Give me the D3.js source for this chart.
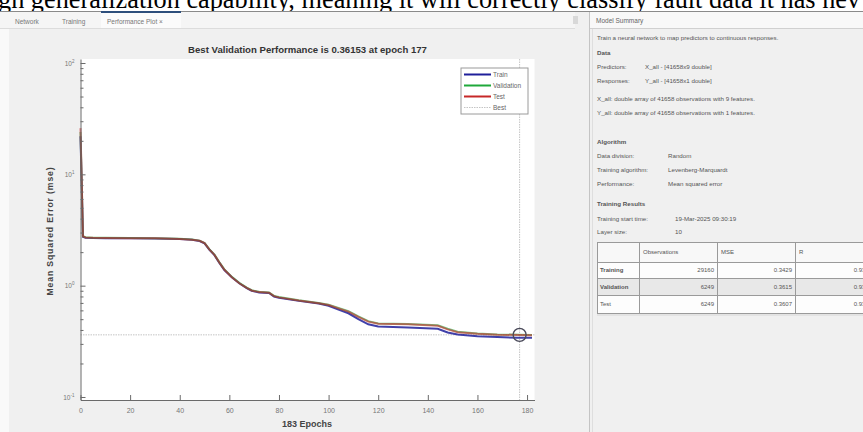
<!DOCTYPE html>
<html>
<head>
<meta charset="utf-8">
<script src="https://cdn.jsdelivr.net/npm/d3@7"></script>
<style>
  body { margin: 0; background: #fff; overflow: hidden; }
  svg { display: block; }
  text { font-family: Arial, "Liberation Sans", sans-serif; }
</style>
</head>
<body>
<div id="chart"></div>
<script>
// performance curves (epoch, mse)
const trainEpochs = [0, 1, 2, 5, 10, 20, 30, 40, 45, 48, 50, 52, 54, 56, 58, 61, 64, 67, 69, 72, 76, 78, 80, 88, 96, 100, 104, 108, 112, 116, 120, 132, 144, 148, 152, 160, 168, 176, 182];
const trainMse = [22, 2.75, 2.7, 2.68, 2.67, 2.66, 2.65, 2.62, 2.58, 2.52, 2.4, 2.1, 1.88, 1.6, 1.38, 1.19, 1.05, 0.95, 0.9, 0.87, 0.86, 0.8, 0.78, 0.73, 0.69, 0.66, 0.61, 0.565, 0.5, 0.45, 0.43, 0.42, 0.41, 0.38, 0.365, 0.352, 0.345, 0.341, 0.34];
const validationEpochs = [0, 1, 2, 5, 10, 20, 30, 40, 45, 48, 50, 52, 54, 56, 58, 61, 64, 67, 69, 72, 76, 78, 80, 88, 96, 100, 104, 108, 112, 116, 120, 132, 144, 148, 152, 160, 168, 177, 182];
const validationMse = [24, 2.78, 2.72, 2.7, 2.69, 2.68, 2.67, 2.64, 2.6, 2.54, 2.42, 2.12, 1.9, 1.62, 1.4, 1.2, 1.06, 0.96, 0.91, 0.88, 0.87, 0.81, 0.79, 0.74, 0.7, 0.675, 0.63, 0.59, 0.53, 0.48, 0.458, 0.452, 0.44, 0.41, 0.385, 0.372, 0.365, 0.3615, 0.361];
const testEpochs = [0, 1, 2, 5, 10, 20, 30, 40, 45, 48, 50, 52, 54, 56, 58, 61, 64, 67, 69, 72, 76, 78, 80, 88, 96, 100, 104, 108, 112, 116, 120, 132, 144, 148, 152, 160, 168, 177, 182];
const testMse = [26, 2.77, 2.71, 2.69, 2.68, 2.67, 2.66, 2.63, 2.59, 2.53, 2.41, 2.11, 1.89, 1.61, 1.39, 1.19, 1.05, 0.955, 0.905, 0.875, 0.865, 0.805, 0.785, 0.735, 0.695, 0.67, 0.625, 0.585, 0.525, 0.475, 0.455, 0.45, 0.437, 0.405, 0.382, 0.37, 0.363, 0.36, 0.359];

const bestEpoch = 177;
const bestMse = 0.36153;
const totalEpochs = 183;

const xTicks = [0, 20, 40, 60, 80, 100, 120, 140, 160, 180];
const yMajorTicks = [0.1, 1, 10, 100];
const yExponents = ["-1", "0", "1", "2"];

const legendNames = ["Train", "Validation", "Test", "Best"];
const tabNames = ["Network", "Training", "Performance Plot \u00d7"];

// model summary panel
const summaryIntro = "Train a neural network to map predictors to continuous responses.";
const dataRows = [["Predictors:", "X_all - [41658x9 double]"], ["Responses:", "Y_all - [41658x1 double]"]];
const dataNotes = ["X_all: double array of 41658 observations with 9 features.", "Y_all: double array of 41658 observations with 1 features."];
const algorithmRows = [["Data division:", "Random"], ["Training algorithm:", "Levenberg-Marquardt"], ["Performance:", "Mean squared error"]];
const resultRows = [["Training start time:", "19-Mar-2025 09:30:19"], ["Layer size:", "10"]];
const tableHeader = ["", "Observations", "MSE", "R"];
const tableNames = ["Training", "Validation", "Test"];
const tableObs = ["29160", "6249", "6249"];
const tableMse = ["0.3429", "0.3615", "0.3607"];
const tableR = ["0.9381", "0.9350", "0.9340"];

const caption = "gh generalization capability, meaning it will correctly classify fault data it has nev";

const W = 863, H = 432;
const margin = { top: 59, right: 328.5, bottom: 32, left: 80.5 };
const width = W - margin.left - margin.right;
const height = H - margin.top - margin.bottom;

const svg = d3.select("#chart").append("svg").attr("width", W).attr("height", H);

// window background
svg.append("rect").attr("width", W).attr("height", H).attr("fill", "#f0f0f0");
svg.append("rect").attr("width", W).attr("height", 11).attr("fill", "#fff");
svg.append("rect").attr("x", 0).attr("y", 28).attr("width", 9).attr("height", H - 28).attr("fill", "#f9f9f9");

// caption of the document above the screenshot (cut at the top in the source)
svg.append("text")
  .attr("x", -2).attr("y", 7.5)
  .attr("font-size", 26.3)
  .attr("fill", "#000")
  .style("font-family", "'Liberation Serif', 'Times New Roman', serif")
  .text(caption);

// tab bar
svg.append("line").attr("x1", 0).attr("x2", W).attr("y1", 11.5).attr("y2", 11.5).attr("stroke", "#8a8a8a");
svg.append("rect").attr("x", 0).attr("y", 12).attr("width", 575).attr("height", 16).attr("fill", "#f5f5f5");
svg.append("rect").attr("x", 101).attr("y", 12).attr("width", 80).attr("height", 16).attr("fill", "#fbfbfb");
svg.append("rect").attr("x", 101).attr("y", 11).attr("width", 80).attr("height", 2).attr("fill", "#2e4f7c");
svg.append("line").attr("x1", 0).attr("x2", 575).attr("y1", 28.5).attr("y2", 28.5).attr("stroke", "#dcdcdc");
const tabX = [15, 62, 107];
svg.selectAll(".tab").data(tabNames).join("text")
  .attr("x", (d, i) => tabX[i]).attr("y", 23.5)
  .attr("font-size", 6.5).attr("fill", "#777")
  .text((d) => d);
svg.append("rect").attr("x", 573).attr("y", 16).attr("width", 5).attr("height", 8).attr("fill", "#d8d8d8");

// model summary header
svg.append("rect").attr("x", 590).attr("y", 12).attr("width", W - 590).attr("height", 16).attr("fill", "#f8f8f8");
svg.append("line").attr("x1", 590).attr("x2", W).attr("y1", 28.5).attr("y2", 28.5).attr("stroke", "#d0d0d0");
svg.append("line").attr("x1", 589.5).attr("x2", 589.5).attr("y1", 12).attr("y2", H).attr("stroke", "#c4c4c4");
svg.append("line").attr("x1", 592.5).attr("x2", 592.5).attr("y1", 29).attr("y2", H).attr("stroke", "#dedede");
svg.append("text").attr("x", 596).attr("y", 23).attr("font-size", 6.5).attr("fill", "#666").text("Model Summary");

// summary texts
const sum = svg.append("g").attr("font-size", 6.2).attr("fill", "#555");
sum.append("text").attr("x", 597).attr("y", 40).text(summaryIntro);
sum.append("text").attr("x", 597).attr("y", 55).attr("font-weight", "bold").text("Data");
dataRows.forEach((r, i) => {
  sum.append("text").attr("x", 597).attr("y", 69 + i * 14).text(r[0]);
  sum.append("text").attr("x", 645).attr("y", 69 + i * 14).text(r[1]);
});
dataNotes.forEach((t, i) => {
  sum.append("text").attr("x", 597).attr("y", 101 + i * 14).text(t);
});
sum.append("text").attr("x", 597).attr("y", 144).attr("font-weight", "bold").text("Algorithm");
algorithmRows.forEach((r, i) => {
  sum.append("text").attr("x", 597).attr("y", 158 + i * 14).text(r[0]);
  sum.append("text").attr("x", 668).attr("y", 158 + i * 14).text(r[1]);
});
sum.append("text").attr("x", 597).attr("y", 206).attr("font-weight", "bold").text("Training Results");
resultRows.forEach((r, i) => {
  sum.append("text").attr("x", 597).attr("y", 221 + i * 13).text(r[0]);
  sum.append("text").attr("x", 675).attr("y", 221 + i * 13).text(r[1]);
});

// results table
const colX = [597, 639, 717, 795, 873];
const rowY = [242, 262, 278, 295, 313];
const tbl = svg.append("g");
tbl.append("rect").attr("x", 597).attr("y", 242).attr("width", 276).attr("height", 20).attr("fill", "#f8f8f8");
tableNames.forEach((n, i) => {
  tbl.append("rect").attr("x", 597).attr("y", rowY[i + 1]).attr("width", 276)
    .attr("height", rowY[i + 2] - rowY[i + 1]).attr("fill", i === 1 ? "#e8e8e8" : "#fdfdfd");
});
rowY.forEach((y) => {
  tbl.append("line").attr("x1", 597).attr("x2", W).attr("y1", y + 0.5).attr("y2", y + 0.5).attr("stroke", "#9a9a9a");
});
colX.slice(0, 4).forEach((x) => {
  tbl.append("line").attr("x1", x + 0.5).attr("x2", x + 0.5).attr("y1", 242).attr("y2", 313).attr("stroke", "#9a9a9a");
});
tbl.append("line").attr("x1", 597).attr("x2", W).attr("y1", 315).attr("y2", 315).attr("stroke", "#d6d6d6");
const tt = tbl.append("g").attr("font-size", 6).attr("fill", "#555");
tableHeader.forEach((h, i) => {
  tt.append("text").attr("x", colX[i] + 4).attr("y", 254).text(h);
});
tableNames.forEach((n, i) => {
  const yy = (rowY[i + 1] + rowY[i + 2]) / 2 + 2.2;
  tt.append("text").attr("x", 600).attr("y", yy).attr("font-weight", i < 2 ? "bold" : "normal").text(n);
  tt.append("text").attr("x", 714).attr("y", yy).attr("text-anchor", "end").text(tableObs[i]);
  tt.append("text").attr("x", 792).attr("y", yy).attr("text-anchor", "end").text(tableMse[i]);
  tt.append("text").attr("x", 872).attr("y", yy).attr("text-anchor", "end").text(tableR[i]);
});

// plot
const canvas = svg.append("g").attr("transform", "translate(" + margin.left + "," + margin.top + ")");

const x = d3.scaleLinear().domain([0, totalEpochs]).range([0, width]);
const y = d3.scaleLog()
  .domain([Math.pow(10, -1.027), Math.pow(10, 2.036)])
  .range([height, 0]);

canvas.append("rect").attr("width", width).attr("height", height).attr("fill", "#fff");

// best markers
canvas.append("line")
  .attr("x1", 0).attr("x2", width).attr("y1", y(bestMse)).attr("y2", y(bestMse))
  .attr("stroke", "#c4c4c4").attr("stroke-width", 1).attr("stroke-dasharray", "1.5,1");
canvas.append("line")
  .attr("x1", x(bestEpoch)).attr("x2", x(bestEpoch)).attr("y1", 0).attr("y2", height)
  .attr("stroke", "#c4c4c4").attr("stroke-width", 1).attr("stroke-dasharray", "1.5,1");

const series = [
  { name: "Train", e: trainEpochs, v: trainMse, color: "#1f1f9a", op: 0.85 },
  { name: "Validation", e: validationEpochs, v: validationMse, color: "#1fa83a", op: 0.6 },
  { name: "Test", e: testEpochs, v: testMse, color: "#c62828", op: 0.6 }
];
const line = d3.line().x((d) => x(d[0])).y((d) => y(d[1]));
series.forEach((s) => {
  canvas.append("path")
    .datum(d3.zip(s.e, s.v))
    .attr("fill", "none")
    .attr("stroke", s.color)
    .attr("stroke-width", 2)
    .attr("stroke-opacity", s.op)
    .attr("d", line);
});

canvas.append("circle")
  .attr("cx", x(bestEpoch)).attr("cy", y(bestMse)).attr("r", 6.5)
  .attr("fill", "none").attr("stroke", "#4a4a5a").attr("stroke-width", 1.4);

// X axis
const xAxis = d3.axisBottom(x).tickValues(xTicks).tickSizeInner(-5).tickSizeOuter(0).tickPadding(8);
const gx = canvas.append("g").attr("transform", "translate(0," + height + ")").call(xAxis);
gx.select(".domain").attr("stroke", "#6a6a6a");
gx.selectAll(".tick line").attr("stroke", "#6a6a6a");
gx.selectAll(".tick text").attr("font-size", 7).attr("fill", "#777").attr("font-family", "Arial, 'Liberation Sans', sans-serif");

// Y axis (log, with minor ticks)
const yMinor = [];
for (let p = -2; p <= 2; p++) {
  for (let k = 2; k <= 9; k++) {
    const v = k * Math.pow(10, p);
    if (v > y.domain()[0] && v < y.domain()[1]) yMinor.push(v);
  }
}
const gyMinor = canvas.append("g").call(d3.axisLeft(y).tickValues(yMinor).tickSizeInner(-3).tickSizeOuter(0).tickFormat(() => ""));
gyMinor.select(".domain").remove();
gyMinor.selectAll(".tick line").attr("stroke", "#6a6a6a");

const gy = canvas.append("g").call(d3.axisLeft(y).tickValues(yMajorTicks).tickSizeInner(-5).tickSizeOuter(0).tickPadding(6).tickFormat(() => ""));
gy.select(".domain").attr("stroke", "#6a6a6a");
gy.selectAll(".tick line").attr("stroke", "#6a6a6a");
gy.selectAll(".tick text").each(function (d, i) {
  const t = d3.select(this).attr("font-size", 6.5).attr("fill", "#777")
    .attr("font-family", "Arial, 'Liberation Sans', sans-serif");
  t.append("tspan").text("10");
  t.append("tspan").attr("dy", -3).attr("font-size", 4.5).text(yExponents[i]);
});

// title and labels
svg.append("text")
  .attr("x", margin.left + width / 2).attr("y", 53)
  .attr("text-anchor", "middle").attr("font-size", 9.6).attr("font-weight", "bold").attr("fill", "#333")
  .text("Best Validation Performance is " + bestMse + " at epoch " + bestEpoch);
svg.append("text")
  .attr("x", margin.left + width / 2 - 0.5).attr("y", 427)
  .attr("text-anchor", "middle").attr("font-size", 9).attr("font-weight", "bold").attr("fill", "#444")
  .text(totalEpochs + " Epochs");
svg.append("text")
  .attr("transform", "translate(53,231) rotate(-90)")
  .attr("text-anchor", "middle").attr("font-size", 8.6).attr("font-weight", "bold").attr("fill", "#444")
  .attr("letter-spacing", 0.9)
  .text("Mean Squared Error  (mse)");

// legend
const legend = svg.append("g").attr("transform", "translate(461,68)");
legend.append("rect").attr("width", 67).attr("height", 46).attr("fill", "#fff").attr("stroke", "#9a9a9a");
const legendColors = [series[0].color, series[1].color, series[2].color, "#c4c4c4"];
legendNames.forEach((n, i) => {
  const ly = 6.5 + i * 11;
  legend.append("line").attr("x1", 3).attr("x2", 30).attr("y1", ly).attr("y2", ly)
    .attr("stroke", legendColors[i]).attr("stroke-width", i < 3 ? 2 : 1)
    .attr("stroke-dasharray", i < 3 ? null : "1.5,1");
  legend.append("text").attr("x", 32).attr("y", ly + 2.3).attr("font-size", 6.5).attr("fill", "#666").text(n);
});
</script>
</body>
</html>
